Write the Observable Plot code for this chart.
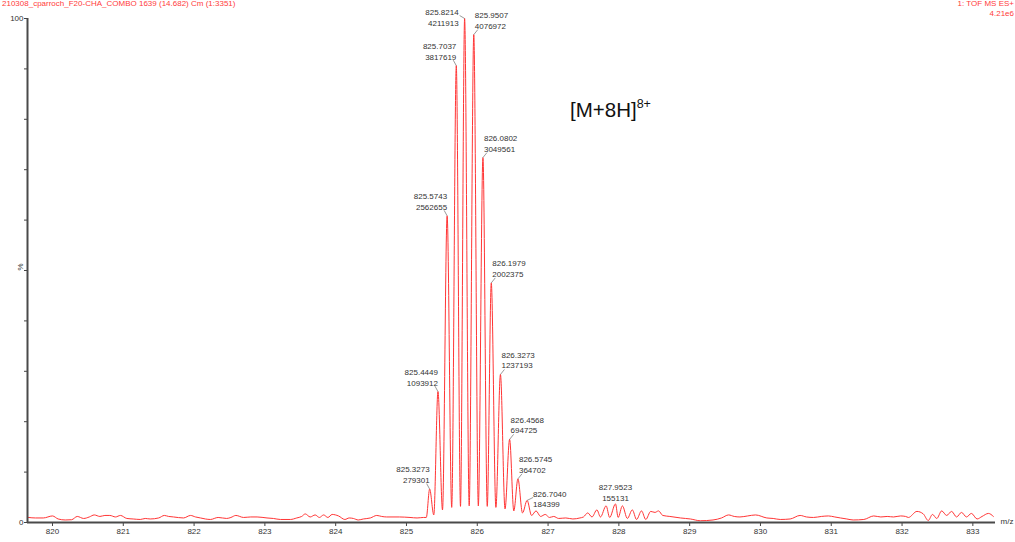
<!DOCTYPE html>
<html>
<head>
<meta charset="utf-8">
<script src="https://cdn.jsdelivr.net/npm/d3@7"></script>
<script src="https://cdn.jsdelivr.net/npm/@observablehq/plot@0.6"></script>
<style>
  html, body { margin: 0; padding: 0; background: #fff; }
  #wrap { position: relative; width: 1015px; height: 542px; font-family: "Liberation Sans", Arial, sans-serif; }
  .hdr { position: absolute; font-size: 8px; line-height: 10px; color: #ff3b3b; white-space: nowrap; }
  #hl { left: 2px; top: -1px; }
  #hr { right: 1px; top: -1px; text-align: right; }
  #ion { position: absolute; left: 570px; top: 98px; font-size: 20.5px; color: #111; white-space: nowrap; }
  #ion sup { font-size: 12.5px; vertical-align: 0; position: relative; top: -9px; }
</style>
</head>
<body>
<div id="wrap">
  <div id="chart"></div>
  <div class="hdr" id="hl">210308_cparroch_F20-CHA_COMBO 1639 (14.682) Cm (1:3351)</div>
  <div class="hdr" id="hr">1: TOF MS ES+<br>4.21e6</div>
  <div id="ion">[M+8H]<sup>8+</sup></div>
</div>
<script>
// ---------- data ----------
const fullScale = 4211913; // 4.21e6 = 100 %
const peakMz = [825.3273, 825.4449, 825.5743, 825.7037, 825.8214, 825.9507, 826.0802, 826.1979, 826.3273, 826.4568, 826.5745, 826.7040, 827.9523];
const peakCounts = [279301, 1093912, 2562655, 3817619, 4211913, 4076972, 3049561, 2002375, 1237193, 694725, 364702, 184399, 155131];
const labelPlacement = ["left", "left", "left", "left", "beside", "right", "right", "right", "right", "right", "right", "after", "above"];

// trace points (m/z, % of full scale), apart from the labelled apexes
const traceMz = [
  819.66, 819.76, 819.87, 820.00, 820.08, 820.18, 820.27, 820.35, 820.44, 820.52, 820.59, 820.67, 820.74, 820.81, 820.89, 820.96,
  821.05, 821.14, 821.24, 821.31, 821.38, 821.50, 821.58, 821.64, 821.71, 821.85, 821.95, 822.02, 822.09, 822.16, 822.23, 822.34,
  822.46, 822.52, 822.59, 822.70, 822.80, 822.89, 823.03, 823.12, 823.22, 823.36, 823.45, 823.52, 823.57, 823.64, 823.71, 823.77,
  823.83, 823.89, 823.95, 824.04, 824.13, 824.19, 824.25, 824.32, 824.39, 824.49, 824.58, 824.65, 824.72, 824.90, 825.05, 825.15,
  825.24, 825.28,
  825.386, 825.509, 825.639, 825.763, 825.886, 826.015, 826.141, 826.263, 826.392, 826.516, 826.639, 826.767,
  826.83, 826.895, 826.96, 827.02, 827.08, 827.15, 827.25, 827.35, 827.45, 827.50,
  827.56, 827.62, 827.69, 827.74, 827.82, 827.87, 827.99, 828.05, 828.12, 828.19, 828.25, 828.32, 828.38, 828.45, 828.51, 828.56,
  828.62, 828.72, 828.87, 829.01, 829.15, 829.33, 829.45, 829.55, 829.63, 829.71, 829.82, 829.93, 830.09, 830.18, 830.28, 830.42,
  830.56, 830.65, 830.75, 830.86, 830.96, 831.05, 831.13, 831.22, 831.31, 831.46, 831.60, 831.70, 831.79, 831.88, 831.98, 832.05,
  832.09, 832.21, 832.30, 832.37, 832.43, 832.49, 832.56, 832.63, 832.70, 832.77, 832.84, 832.91, 832.98, 833.06, 833.13, 833.22, 833.29
];
const tracePct = [
  1.0, 0.9, 0.9, 1.3, 0.7, 0.5, 0.55, 1.2, 0.8, 1.1, 1.5, 1.2, 1.4, 1.4, 1.1, 1.4,
  0.8, 0.7, 0.6, 0.8, 0.7, 0.9, 1.4, 1.2, 1.1, 0.9, 1.4, 1.1, 0.9, 0.7, 0.6, 1.0,
  0.8, 1.0, 1.4, 1.0, 1.1, 1.1, 0.9, 0.8, 0.6, 0.6, 0.9, 1.2, 1.7, 1.1, 1.5, 1.0,
  1.5, 1.0, 1.6, 1.3, 0.6, 0.9, 0.8, 0.5, 0.7, 0.9, 1.4, 1.2, 1.1, 1.1, 1.0, 0.9,
  1.0, 1.0,
  1.5, 2.5, 3.0, 3.2, 3.3, 3.3, 3.2, 3.0, 2.7, 2.3, 1.9, 1.4,
  2.3, 1.2, 1.6, 1.0, 1.2, 0.8, 0.9, 0.7, 0.9, 1.1,
  1.9, 1.1, 2.5, 1.1, 3.3, 1.0, 1.0, 3.3, 0.8, 2.5, 0.6, 2.3, 0.6, 2.2, 2.0, 2.3,
  1.4, 1.2, 0.9, 0.7, 0.35, 0.5, 0.9, 1.5, 1.2, 1.1, 1.3, 1.5, 0.9, 0.8, 0.6, 0.7,
  1.4, 1.1, 1.0, 1.2, 1.3, 1.1, 0.9, 0.7, 0.5, 0.6, 1.3, 1.1, 1.2, 1.1, 1.3, 1.2,
  1.0, 2.2, 1.7, 0.4, 1.6, 0.8, 2.3, 1.4, 2.2, 1.1, 2.0, 1.1, 1.8, 0.7, 1.2, 1.8, 1.2
];

const xDomain = [819.647, 833.32];
const xTicks = [820, 821, 822, 823, 824, 825, 826, 827, 828, 829, 830, 831, 832, 833];
const yTicks = [0, 10, 20, 30, 40, 50, 60, 70, 80, 90, 100];
const yTickLabels = {0: "0", 100: "100"};

// ---------- build tables ----------
const peaks = peakMz.map((mz, i) => ({
  mz, pct: peakCounts[i] / fullScale * 100,
  text: mz.toFixed(4) + "\n" + peakCounts[i],
  place: labelPlacement[i]
}));
const trace = traceMz.map((mz, i) => ({mz, pct: tracePct[i]}))
  .concat(peaks.map(p => ({mz: p.mz, pct: p.pct})))
  .sort((a, b) => a.mz - b.mz);

const W = 1015, H = 542, mL = 27, mR = 20, mT = 18, mB = 20;
const kx = (W - mL - mR) / (xDomain[1] - xDomain[0]); // px per m/z unit
const ky = (H - mT - mB) / 100;                       // px per %

// leader offsets in pixels (label end of the leader)
const leaderOff = {left: [-3, -5.5], beside: [-5, -3], right: [4, -5], after: [6, -3], above: [0, 0]};
const leaders = peaks.filter(p => p.place !== "above").map(p => ({
  x1: p.mz, y1: p.pct,
  x2: p.mz + leaderOff[p.place][0] / kx,
  y2: p.pct - leaderOff[p.place][1] / ky
}));

const labelFont = {fontSize: 8, lineHeight: 1.35, fill: "#333", lineAnchor: "bottom"};

const chart = Plot.plot({
  width: W, height: H,
  marginLeft: mL, marginRight: mR, marginTop: mT, marginBottom: mB,
  style: {fontFamily: "'Liberation Sans', Arial, sans-serif", fontSize: "8px", color: "#333", background: "#fff"},
  x: {domain: xDomain},
  y: {domain: [0, 100]},
  marks: [
    Plot.axisX({ticks: xTicks, tickSize: 4, tickPadding: 2, tickFormat: d => String(d), label: null, stroke: "#444", fill: "#333"}),
    Plot.axisY({ticks: yTicks, tickSize: 3, tickPadding: 1, tickFormat: d => yTickLabels[d] ?? "", label: null, stroke: "#444", fill: "#333"}),
    Plot.line(trace, {x: "mz", y: "pct", curve: "monotone-x", stroke: "#ff3535", strokeWidth: 1}),
    Plot.ruleY([0], {stroke: "#4a4a4a", strokeWidth: 2}),
    Plot.ruleX([xDomain[0]], {stroke: "#4a4a4a", strokeWidth: 2}),
    Plot.link(leaders, {x1: "x1", y1: "y1", x2: "x2", y2: "y2", stroke: "#555", strokeWidth: 0.6}),
    Plot.text(peaks.filter(p => p.place === "left"), {x: "mz", y: "pct", text: "text", textAnchor: "end", dx: 0, dy: -6, ...labelFont}),
    Plot.text(peaks.filter(p => p.place === "beside"), {x: "mz", y: "pct", text: "text", textAnchor: "end", dx: -6, dy: 7, ...labelFont}),
    Plot.text(peaks.filter(p => p.place === "right"), {x: "mz", y: "pct", text: "text", textAnchor: "start", dx: 1, dy: -6, ...labelFont}),
    Plot.text(peaks.filter(p => p.place === "after"), {x: "mz", y: "pct", text: "text", textAnchor: "start", dx: 6, dy: 7, ...labelFont}),
    Plot.text(peaks.filter(p => p.place === "above"), {x: "mz", y: "pct", text: "text", textAnchor: "middle", dy: -3, ...labelFont}),
    Plot.text(["%"], {frameAnchor: "left", dx: -7, rotate: -90, fontSize: 8, fill: "#333"}),
    Plot.text(["m/z"], {frameAnchor: "bottom-right", textAnchor: "start", dx: 5, dy: 1, fontSize: 8, fill: "#333"})
  ]
});
document.getElementById("chart").appendChild(chart);
</script>
</body>
</html>
